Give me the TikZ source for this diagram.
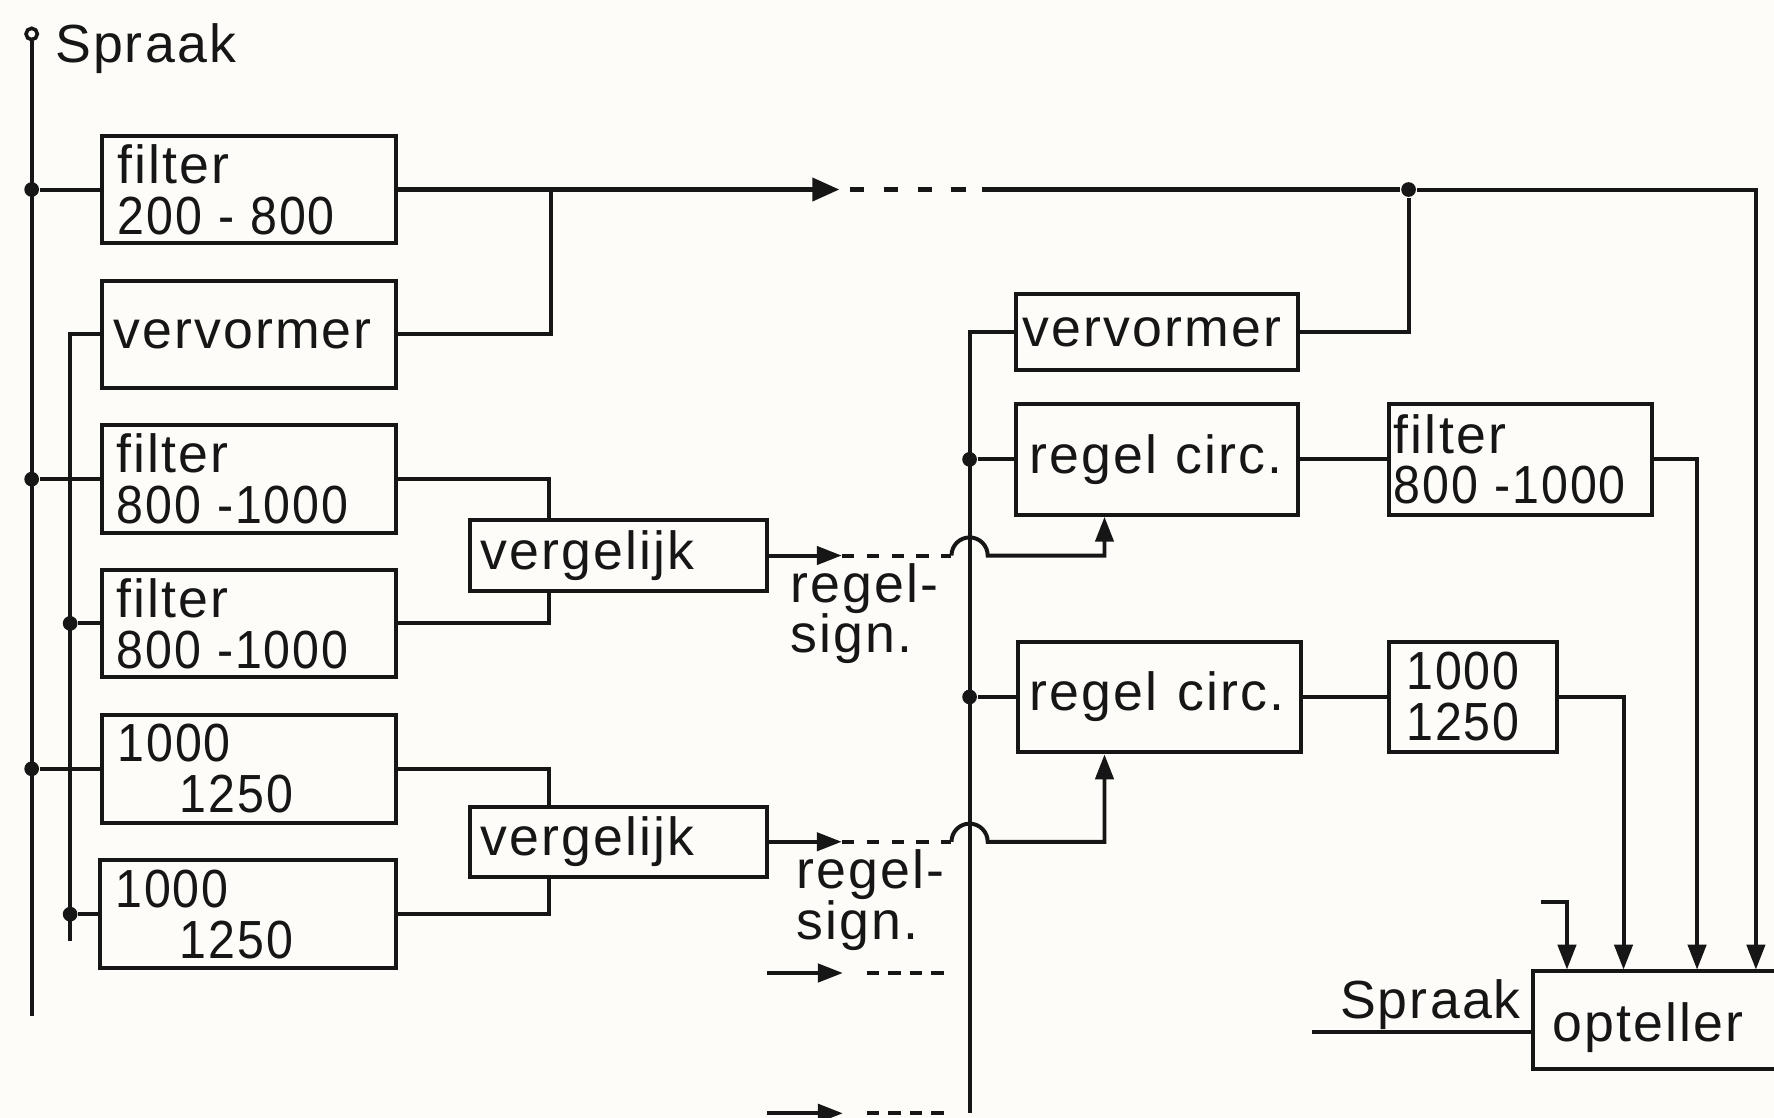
\documentclass[tikz,border=0pt]{standalone}
\usepackage{fontspec}
\setmainfont{Liberation Sans}[LetterSpace=4.0]
\usetikzlibrary{arrows.meta}
\definecolor{bgc}{RGB}{253,252,248}
\definecolor{ink}{RGB}{22,22,22}
\newcommand\numtxt[1]{\scalebox{0.9}[1]{#1}}
\begin{document}
\begin{tikzpicture}[x=0.1mm,y=-0.1mm,
  every node/.style={font=\fontsize{13.5}{12.8}\selectfont, text=ink},
  wire/.style={draw=ink, line width=1.0pt},
  mainwire/.style={draw=ink, line width=1.3pt},
  blk/.style={draw=ink, line width=1.0pt, align=left, inner ysep=0pt},
  dot/.style={circle, fill=ink, inner sep=0pt, minimum size=1.3mm},
  tip/.style={-{Triangle[length=2.2mm,width=1.6mm]}},
  bigtip/.style={-{Triangle[length=2.4mm,width=2.0mm]}},
  dsh/.style={dash pattern=on 1.3mm off 1.7mm},
  dshb/.style={dash pattern=on 1.1mm off 1.1mm},
  dshc/.style={dash pattern=on 1.1mm off 0.8mm},
  lbl/.style={align=left, inner sep=0pt}
]
\fill[bgc] (0,0) rectangle (1568,988);
\useasboundingbox (0,0) rectangle (1568,988);

% ---------- left column ----------
\node[circle, draw=ink, line width=0.9pt, inner sep=0pt, minimum size=1.0mm] (term) at (28,30) {};
\node[anchor=base west, inner sep=0pt] (spraakL) at (48,55) {Spraak};
\coordinate (busEnd) at (28,898);
\coordinate (bus2End) at (62,832);

\node[blk, minimum height=9.5mm, text width=23.2mm, inner xsep=1.4mm] (fA) at (220,167.5) {filter\\\numtxt{200 - 800}};
\node[blk, minimum height=9.5mm, text width=24.0mm, inner xsep=1.0mm] (vA) at (220,295.5) {vervormer};
\node[blk, minimum height=9.5mm, text width=23.4mm, inner xsep=1.3mm] (fB1) at (220,423.5) {filter\\\numtxt{800 -1000}};
\node[blk, minimum height=9.5mm, text width=23.4mm, inner xsep=1.3mm] (fB2) at (220,551) {filter\\\numtxt{800 -1000}};
\node[blk, minimum height=9.5mm, text width=23.2mm, inner xsep=1.4mm] (fC1) at (220,679.5) {\numtxt{1000}\\\hspace*{5.5mm}\numtxt{1250}};
\node[blk, minimum height=9.6mm, text width=23.4mm, inner xsep=1.4mm] (fC2) at (219,808) {\numtxt{1000}\\\hspace*{5.7mm}\numtxt{1250}};

\node[blk, minimum height=6.2mm, text width=24.3mm, inner xsep=1.0mm] (vg1) at (546.5,491) {vergelijk};
\node[blk, minimum height=6.2mm, text width=24.3mm, inner xsep=1.0mm] (vg2) at (546.5,744) {vergelijk};

\node[lbl, anchor=north west] (rs1) at (698,497) {regel-\\sign.};
\node[lbl, anchor=north west] (rs2) at (703,750) {regel-\\sign.};

% junctions on the buses
\node[dot] (j1) at (28,167.5) {};
\node[dot] (j2) at (28,423.5) {};
\node[dot] (j3) at (28,679.5) {};
\node[dot] (j4) at (62,551) {};
\node[dot] (j5) at (62,808) {};
\coordinate (jA) at (487,167.5);

% ---------- right column ----------
\node[blk, minimum height=6.7mm, text width=23.7mm, inner xsep=0.6mm] (vR) at (1022.5,293.5) {vervormer};
\node[blk, minimum height=9.8mm, text width=22.5mm, inner xsep=1.2mm] (rc1) at (1022.5,406) {\mbox{regel circ.}};
\node[blk, minimum height=9.8mm, text width=22.4mm, inner xsep=0.4mm] (fR) at (1344,406) {filter\\\numtxt{800 -1000}};
\node[blk, minimum height=9.8mm, text width=23.0mm, inner xsep=1.0mm] (rc2) at (1025,616) {\mbox{regel\hspace{1.8mm}circ.}};
\node[blk, minimum height=9.8mm, text width=11.8mm, inner xsep=1.5mm] (cR) at (1302,616) {\numtxt{1000}\\\numtxt{1250}};
\node[blk, minimum height=8.7mm, text width=20.1mm, inner xsep=1.7mm, text height=4.1mm, text depth=0.35mm] (opt) at (1472.5,901.5) {opteller};
\node[anchor=base east, inner sep=0pt] (spraakR) at (1345,900) {Spraak};

\node[dot] (jR) at (1245,167.5) {};
\node[dot] (jr1) at (857,406) {};
\node[dot] (jr2) at (857,616) {};
\coordinate (rbEnd) at (857,984);

\coordinate (tA) at (742,167.5);
\coordinate (dA0) at (751,167.5);
\coordinate (dA) at (868,167.5);
\coordinate (t1) at (744,491);
\coordinate (h1) at (841,491);
\coordinate (t2) at (744,744);
\coordinate (h2) at (841,744);
\coordinate (e1s) at (678,860);
\coordinate (e1t) at (745,860);
\coordinate (e1d) at (766,860);
\coordinate (e1e) at (840,860);
\coordinate (e2s) at (678,984);
\coordinate (e2t) at (745,984);
\coordinate (e2d) at (766,984);
\coordinate (e2e) at (840,984);
\coordinate (in1) at (1385,857);
\coordinate (in2) at (1435,857);
\coordinate (in3) at (1500,857);
\coordinate (in4) at (1552,857);
\coordinate (s0) at (1362,797);
\coordinate (sp0) at (1160,912);

% ---------- wires ----------
\draw[wire] (term.south) -- (busEnd);
\draw[wire] (vA.west) -| (bus2End);
\draw[wire] (j1) -- (fA.west);
\draw[wire] (j2) -- (fB1.west);
\draw[wire] (j3) -- (fC1.west);
\draw[wire] (j4) -- (fB2.west);
\draw[wire] (j5) -- (fC2.west);

\draw[mainwire, bigtip] (fA.east) -- (tA);
\draw[mainwire, dsh] (dA0) -- (dA);
\draw[mainwire] (dA) -- (jR);
\draw[wire, tip] (jR) -| (in4);
\draw[wire] (vA.east) -| (jA);

\draw[wire] (fB1.east) -| ([xshift=7.2mm]vg1.north west);
\draw[wire] (fB2.east) -| ([xshift=7.2mm]vg1.south west);
\draw[wire] (fC1.east) -| ([xshift=7.2mm]vg2.north west);
\draw[wire] (fC2.east) -| ([xshift=7.2mm]vg2.south west);

\draw[wire, tip] (vg1.east) -- (t1);
\draw[wire, dshb] (t1) -- (h1);
\draw[wire, tip] (h1) arc[start angle=180, end angle=0, radius=1.6mm] -| ([xshift=8mm]rc1.south west);
\draw[wire, tip] (vg2.east) -- (t2);
\draw[wire, dshb] (t2) -- (h2);
\draw[wire, tip] (h2) arc[start angle=180, end angle=0, radius=1.6mm] -| ([xshift=7.8mm]rc2.south west);

\draw[wire, tip] (e1s) -- (e1t);
\draw[wire, dshc] (e1d) -- (e1e);
\draw[wire, tip] (e2s) -- (e2t);
\draw[wire, dshc] (e2d) -- (e2e);

\draw[wire] (vR.west) -| (rbEnd);
\draw[wire] (jr1) -- (rc1.west);
\draw[wire] (jr2) -- (rc2.west);
\draw[wire] (vR.east) -| (jR);
\draw[wire] (rc1.east) -- (fR.west);
\draw[wire] (rc2.east) -- (cR.west);
\draw[wire, tip] (fR.east) -| (in3);
\draw[wire, tip] (cR.east) -| (in2);
\draw[wire, tip] (s0) -| (in1);
\draw[wire] (sp0) -- (sp0 -| opt.west);
\end{tikzpicture}
\end{document}
